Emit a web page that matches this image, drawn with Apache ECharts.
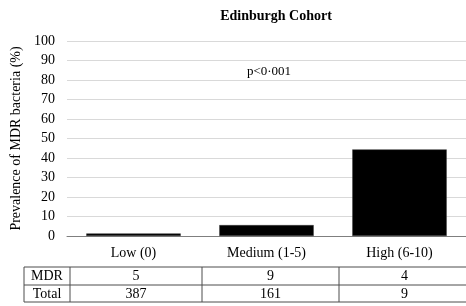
<!DOCTYPE html>
<html>
<head>
<meta charset="utf-8">
<script src="https://cdn.jsdelivr.net/npm/echarts@6/dist/echarts.min.js"></script>
<style>
html,body{margin:0;padding:0;background:#fff;}
#main{width:466px;height:306px;}
</style>
</head>
<body>
<div id="main"></div>
<script>
const titleText = 'Edinburgh Cohort';
const yAxisName = 'Prevalence of MDR bacteria (%)';
const categories = ['Low (0)', 'Medium (1-5)', 'High (6-10)'];
const prevalence = [1.3, 5.6, 44.4];
const mdrCounts = [5, 9, 4];
const totalCounts = [387, 161, 9];
const rowLabels = ['MDR', 'Total'];
const pValueText = 'p<0\u00B7001';

const FONT = '"Liberation Serif", "Times New Roman", serif';
const chart = echarts.init(document.getElementById('main'), null, {renderer: 'canvas'});

// table layout
const colX = [24, 70, 202, 339, 470];
const rowY = [267, 285, 302];
const lineColor = '#4d4d4d';

const graphics = [];
rowY.forEach(y => graphics.push({type: 'line', shape: {x1: colX[0], y1: y, x2: colX[colX.length - 1], y2: y}, style: {stroke: lineColor, lineWidth: 1}}));
colX.forEach(x => graphics.push({type: 'line', shape: {x1: x, y1: rowY[0], x2: x, y2: rowY[2]}, style: {stroke: lineColor, lineWidth: 1}}));
const rows = [mdrCounts, totalCounts];
rows.forEach((vals, r) => {
  const cy = (rowY[r] + rowY[r + 1]) / 2 + 0.5;
  graphics.push({type: 'text', x: (colX[0] + colX[1]) / 2, y: cy,
    style: {text: rowLabels[r], font: '14px ' + FONT, fill: '#000', textAlign: 'center', textVerticalAlign: 'middle'}});
  vals.forEach((v, i) => {
    graphics.push({type: 'text', x: (colX[i + 1] + colX[i + 2]) / 2, y: cy,
      style: {text: String(v), font: '14px ' + FONT, fill: '#000', textAlign: 'center', textVerticalAlign: 'middle'}});
  });
});
graphics.push({type: 'text', x: 269, y: 72,
  style: {text: pValueText, font: '13px ' + FONT, fill: '#000', textAlign: 'center', textVerticalAlign: 'middle'}});

chart.setOption({
  animation: false,
  backgroundColor: '#fff',
  title: {
    text: titleText, left: 271, top: 4, textAlign: 'center',
    textStyle: {fontFamily: FONT, fontSize: 14, fontWeight: 'bold', color: '#000'}
  },
  grid: {left: 67, top: 41, height: 195, width: 403, containLabel: false},
  xAxis: {
    type: 'category', data: categories,
    axisLine: {lineStyle: {color: '#7f7f7f', width: 1}},
    axisTick: {show: false},
    axisLabel: {fontFamily: FONT, fontSize: 14, color: '#000', margin: 10}
  },
  yAxis: {
    type: 'value', min: 0, max: 100, interval: 10,
    name: yAxisName, nameLocation: 'middle', nameGap: 39, nameRotate: 90,
    nameTextStyle: {fontFamily: FONT, fontSize: 14, color: '#000'},
    axisLine: {show: false}, axisTick: {show: false},
    axisLabel: {fontFamily: FONT, fontSize: 14, color: '#000', margin: 12},
    splitLine: {lineStyle: {color: '#d9d9d9', width: 1}}
  },
  series: [{
    type: 'bar', data: prevalence, barWidth: '71%',
    itemStyle: {color: '#000', borderColor: '#3a3a3a', borderWidth: 0.5}
  }],
  graphic: graphics
});
</script>
</body>
</html>
